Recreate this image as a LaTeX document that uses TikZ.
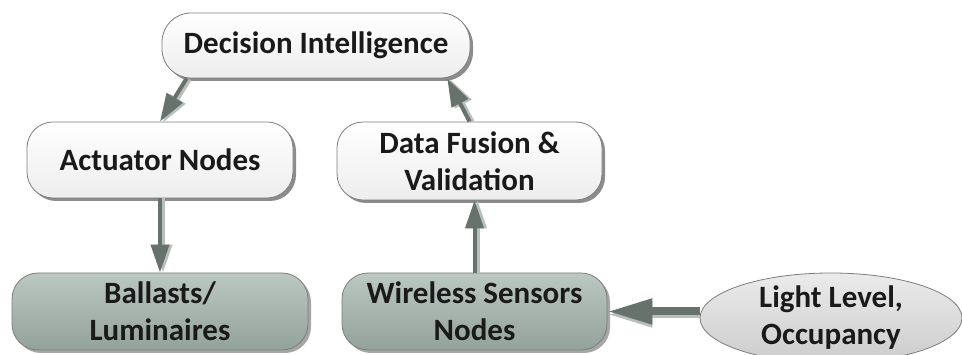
\documentclass[tikz,border=0pt]{standalone}
\usepackage{fontspec}
\setmainfont{Carlito}
\usetikzlibrary{arrows.meta,shadows,calc,shapes.geometric}
\definecolor{arrdark}{HTML}{67726D}
\definecolor{arrlight}{HTML}{B9C0BC}
\definecolor{edge}{HTML}{7A7F7C}
\definecolor{greentop}{HTML}{BCC7C2}
\definecolor{greenbot}{HTML}{93A29B}
\definecolor{txt}{HTML}{1A1A1A}
\tikzset{
  boxtext/.style={font=\fontsize{31}{37}\selectfont\bfseries, text=txt, align=center, inner sep=0pt},
  whitebox/.style={boxtext, draw=edge, line width=0.8pt, top color=white, bottom color=white!93!black,
     drop shadow={shadow xshift=3pt, shadow yshift=-3pt, fill=black!45, opacity=1}},
  greenbox/.style={boxtext, draw=edge, line width=0.8pt, top color=greentop, bottom color=greenbot,
     drop shadow={shadow xshift=3pt, shadow yshift=-3pt, fill=black!35, opacity=1}},
  ellbox/.style={boxtext, ellipse, draw=edge, line width=0.8pt, top color=white!92!black, bottom color=white!80!black},
  arrshadow/.style={draw=arrlight, line width=#1, -{Triangle[length=28pt,width=18pt]}, arrlight},
  arrmain/.style={draw=arrdark, line width=#1, -{Triangle[length=28pt,width=18pt]}, arrdark},
}
\begin{document}
\begin{tikzpicture}[x=1pt,y=1pt]
\useasboundingbox (0,0) rectangle (962,355);
\node[whitebox, rounded corners=29pt, minimum width=308pt, minimum height=65pt] (dec) at (316,309.5) {Decision Intelligence};
\node[whitebox, rounded corners=26pt, minimum width=266pt, minimum height=76pt] (act) at (160,195) {Actuator Nodes};
\node[whitebox, rounded corners=26pt, minimum width=265pt, minimum height=78pt] (fus) at (469.5,194) {Data Fusion \&\\Validation};
\node[greenbox, rounded corners=26pt, minimum width=296pt, minimum height=77pt] (bal) at (160,43.5) {Ballasts/\\Luminaires};
\node[greenbox, rounded corners=26pt, minimum width=265pt, minimum height=77pt] (wir) at (474.5,43.5) {Wireless Sensors\\Nodes};
\node[ellbox, minimum width=262pt, minimum height=90pt] (light) at (831,37) {Light Level,\\Occupancy};
% decision -> actuator
\coordinate (d1) at ($(dec.south west)!0.081!(dec.south east)$);
\draw[arrshadow=4pt] ($(d1)+(3,-1)$) -- ($(act.north)+(3,-1)$);
\draw[arrmain=4pt] (d1) -- (act.north);
% fusion -> decision
\coordinate (d2) at ($(dec.south west)!0.925!(dec.south east)$);
\draw[arrshadow=4pt] ($(fus.north)+(3,0)$) -- ($(d2)+(3,-1)$);
\draw[arrmain=4pt] (fus.north) -- (d2);
% actuator -> ballasts
\draw[arrshadow=4pt] ($(act.south)+(3,0)$) -- ($(bal.north)+(3,0)$);
\draw[arrmain=4pt] (act.south) -- (bal.north);
% wireless -> fusion
\draw[arrshadow=4pt] ($(wir.north)+(3,0)$) -- ($(wir.north |- fus.south)+(3,0)$);
\draw[arrmain=4pt] (wir.north) -- (wir.north |- fus.south);
% light -> wireless
\draw[draw=arrlight, line width=8pt, -{Triangle[length=45pt,width=24pt]}, arrlight] ($(light.west |- wir.east)+(0,-3)$) -- ($(wir.east)+(0,-3)$);
\draw[draw=arrdark, line width=8pt, -{Triangle[length=45pt,width=24pt]}, arrdark] (light.west |- wir.east) -- (wir.east);
\end{tikzpicture}
\end{document}
